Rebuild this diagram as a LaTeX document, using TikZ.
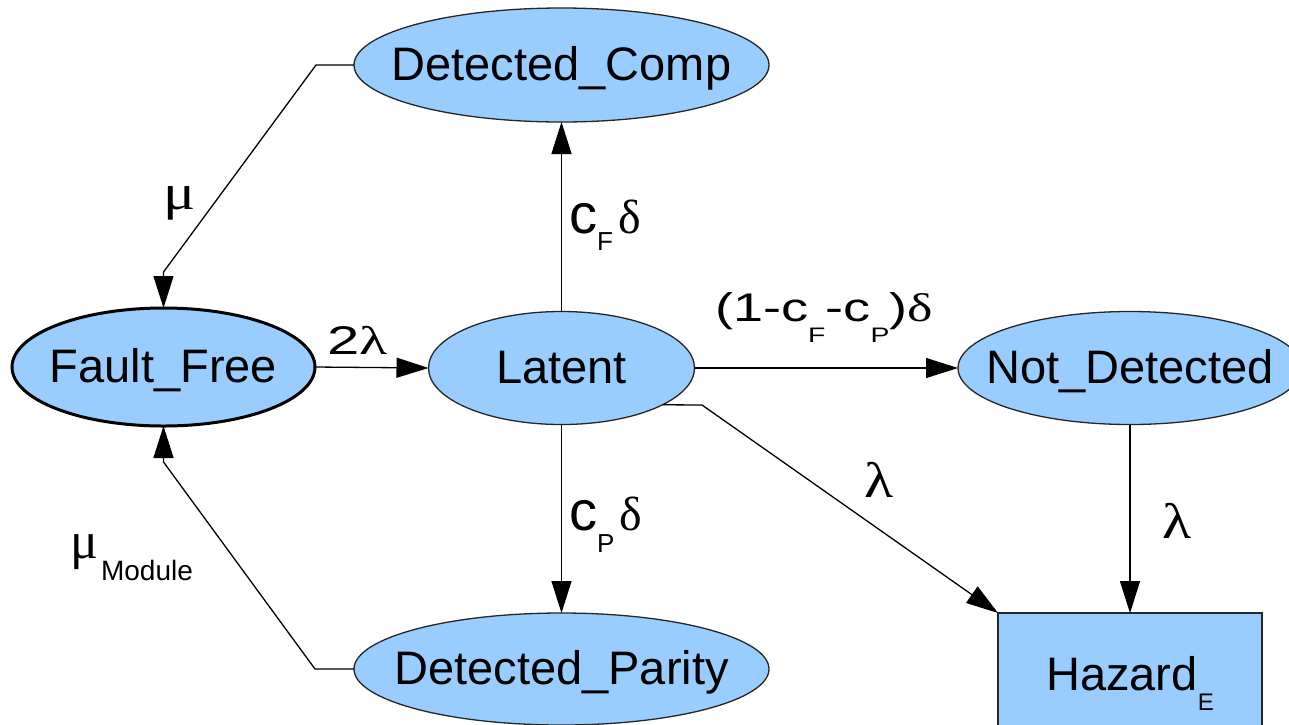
\documentclass[tikz,border=0pt]{standalone}
\usepackage{fontspec}
\setmainfont{Liberation Sans}
\newfontfamily\grk{Liberation Serif}
\usepackage{graphicx}
\usetikzlibrary{shapes.geometric,arrows.meta}
\definecolor{nodeblue}{HTML}{99CCFF}
\newcommand{\stxt}[1]{\makebox[0pt]{\raisebox{-15pt}[0pt][0pt]{#1}}}
\begin{document}
\begin{tikzpicture}[x=1pt,y=-1pt,
  state/.style={ellipse,draw=black!85,line width=1.3pt,fill=nodeblue,inner sep=0pt,
    outer sep=0pt,font=\fontsize{47}{50}\selectfont},
  hazbox/.style={rectangle,draw=black!85,line width=1.3pt,fill=nodeblue,inner sep=0pt,
    outer sep=0pt,font=\fontsize{47}{50}\selectfont},
  conn/.style={line width=1.3pt,-{Triangle[length=32pt,width=20pt]}},
  lbl/.style={inner sep=0pt,anchor=base west},
]
\clip (0,0) rectangle (1289,724);
\fill[white] (0,0) rectangle (1289,724);

% states
\node[state,minimum width=415pt,minimum height=114pt] (dc) at (561.5,65) {\stxt{Detected\_Comp}};
\node[state,line width=3pt,draw=black,minimum width=303pt,minimum height=118pt] (ff) at (163.5,367) {\stxt{Fault\_Free}};
\node[state,minimum width=266pt,minimum height=113pt] (lat) at (561.5,368) {\stxt{Latent}};
\node[state,minimum width=344pt,minimum height=113pt] (nd) at (1130,368) {\stxt{Not\_Detected}};
\node[state,minimum width=415pt,minimum height=112pt] (dp) at (561.5,669) {\stxt{Detected\_Parity}};
\node[hazbox,minimum width=264pt,minimum height=124pt] (hz) at (1130,675)
  {\stxt{Hazard\raisebox{-20pt}{\fontsize{24}{24}\selectfont E}}};

% connectors
\coordinate (m1) at (316,65);
\coordinate (m2) at (163.5,272);
\draw[conn] (dc.west) -- (m1) -- (m2) -- (ff.north);
\coordinate (m3) at (315,669);
\coordinate (m4) at (163.5,462);
\draw[conn] (dp.west) -- (m3) -- (m4) -- (ff.south);
\draw[conn] (ff.east) -- (lat.west);
\draw[conn] (lat.north) -- (dc.south);
\draw[conn] (lat.south) -- (dp.north);
\draw[conn] (lat.east) -- (nd.west);
\coordinate (m5) at (702,405);
\draw[conn] (lat.-20) -- (m5) -- (hz.north west);
\draw[conn] (nd.south) -- (hz.north);

% labels
\node[lbl] (l2lam) at (327,354) {\scalebox{1.45}[1]{\fontsize{40}{40}\selectfont 2{\grk λ}}};
\node[lbl] (lmu) at (163,209) {\scalebox{1.2}[1]{\grk\fontsize{50}{50}\selectfont μ}};
\node[lbl] (lcf) at (569,233) {\fontsize{56}{56}\selectfont c\raisebox{-17pt}{\fontsize{26}{26}\selectfont F}\hspace{5pt}{\grk\fontsize{48}{48}\selectfont δ}};
\node[lbl] (lcp) at (569,530) {\fontsize{56}{56}\selectfont c\raisebox{-22pt}{\fontsize{26}{26}\selectfont P}\hspace{5pt}{\grk\fontsize{48}{48}\selectfont δ}};
\node[lbl] (lnd) at (715,321) {\scalebox{1.35}[1]{\fontsize{40}{40}\selectfont (1-c\raisebox{-21pt}{\fontsize{21}{21}\selectfont F}-c\raisebox{-21pt}{\fontsize{21}{21}\selectfont P}){\grk δ}}};
\node[lbl] (llam1) at (864,497) {\scalebox{1.2}[1]{\grk\fontsize{50}{50}\selectfont λ}};
\node[lbl] (llam2) at (1162,538) {\scalebox{1.2}[1]{\grk\fontsize{50}{50}\selectfont λ}};
\node[lbl] (lmum) at (70,558) {{\grk\fontsize{52}{52}\selectfont μ}\hspace{3pt}\raisebox{-22pt}{\fontsize{28}{28}\selectfont Module}};
\end{tikzpicture}
\end{document}
